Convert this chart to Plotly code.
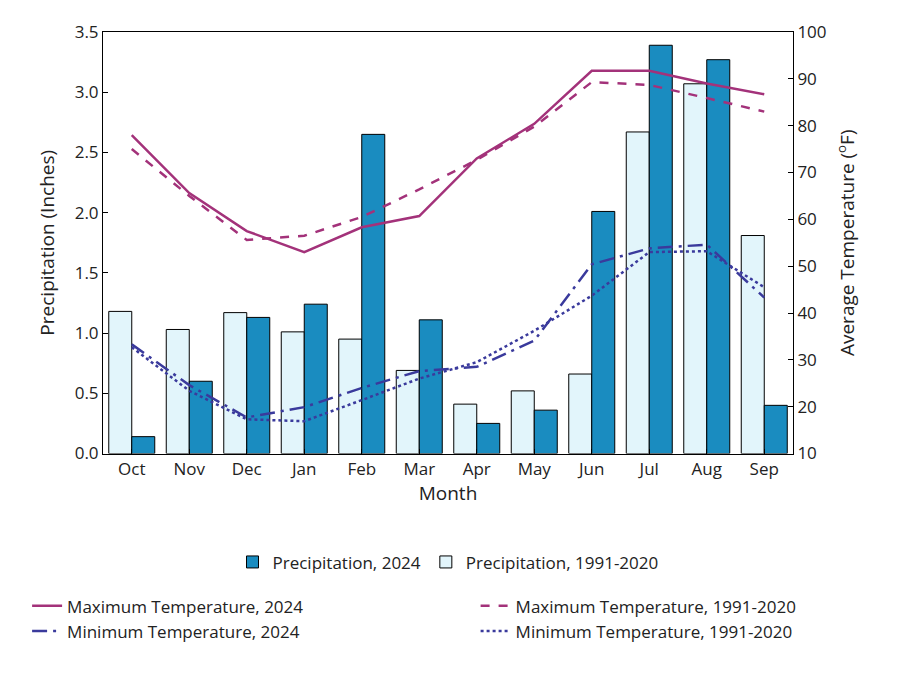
import plotly.graph_objects as go

months = ["Oct","Nov","Dec","Jan","Feb","Mar","Apr","May","Jun","Jul","Aug","Sep"]
precip_2024 = [0.14,0.60,1.13,1.24,2.65,1.11,0.25,0.36,2.01,3.39,3.27,0.40]
precip_norm = [1.18,1.03,1.17,1.01,0.95,0.69,0.41,0.52,0.66,2.67,3.07,1.81]
tmax_2024 = [78,65.6,57.5,53,58.3,60.7,73,80.4,91.7,91.7,89,86.7]
tmax_norm = [75,65,55.6,56.5,60.5,66.4,72.7,79.8,89.3,88.7,85.9,83]
tmin_2024 = [33.3,24.6,17.7,19.9,24,27.6,28.5,34.1,50.4,53.8,54.6,43.3]
tmin_norm = [32.7,23.4,17.3,16.9,21.4,26,29.5,36.2,43.7,53,53.2,45.5]

MAG = "#a3327a"; BLU = "#3a3a9c"
fig = go.Figure()
fig.add_bar(x=months, y=precip_norm, name="Precipitation, 1991-2020", offsetgroup="1",
            marker=dict(color="#e2f5fb", line=dict(color="black", width=1)), legend="legend")
fig.add_bar(x=months, y=precip_2024, name="Precipitation, 2024", offsetgroup="2",
            marker=dict(color="#1a8cc0", line=dict(color="black", width=1)), legend="legend")
fig.add_scatter(x=months, y=tmax_2024, yaxis="y2", mode="lines", name="Maximum Temperature, 2024",
                line=dict(color=MAG, width=2.5), legend="legend2")
fig.add_scatter(x=months, y=tmin_2024, yaxis="y2", mode="lines", name="Minimum Temperature, 2024",
                line=dict(color=BLU, width=2.5, dash="longdashdot"), legend="legend2")
fig.add_scatter(x=months, y=tmax_norm, yaxis="y2", mode="lines", name="Maximum Temperature, 1991-2020",
                line=dict(color=MAG, width=2.5, dash="dash"), legend="legend3")
fig.add_scatter(x=months, y=tmin_norm, yaxis="y2", mode="lines", name="Minimum Temperature, 1991-2020",
                line=dict(color=BLU, width=2.5, dash="dot"), legend="legend3")

def ax(title, **kw):
    d = dict(showline=True, linecolor="black", linewidth=1, ticks="inside",
             tickcolor="black", showgrid=False, zeroline=False,
             tickfont=dict(size=17, color="#222"),
             title=dict(text=title, font=dict(size=19, color="#222")))
    d.update(kw)
    return d

DOM = [0.309, 1]
fig.update_layout(
    width=900, height=674, plot_bgcolor="white", paper_bgcolor="white",
    font=dict(family="Open Sans", color="#222"),
    margin=dict(l=95, r=115, t=20, b=40),
    barmode="group", bargap=0.2, bargroupgap=0,
    xaxis=ax("Month", mirror=True, anchor="y"),
    yaxis=ax("Precipitation (Inches)", mirror=True, range=[0,3.5], dtick=0.5,
             tickformat=".1f", domain=DOM),
    yaxis2=ax("Average Temperature (<sup>o</sup>F)", overlaying="y", side="right",
              range=[10,100], dtick=10),
    legend=dict(orientation="h", x=0.5, xanchor="center", y=0.16, yanchor="top",
                font=dict(size=17), traceorder="reversed"),
    legend2=dict(x=-0.11, xanchor="left", y=0.088, yanchor="top", font=dict(size=17),
                 tracegroupgap=0),
    legend3=dict(x=0.54, xanchor="left", y=0.088, yanchor="top", font=dict(size=17),
                 tracegroupgap=0),
)
fig.update_xaxes(title_standoff=5)
fig.write_html("out.html")
